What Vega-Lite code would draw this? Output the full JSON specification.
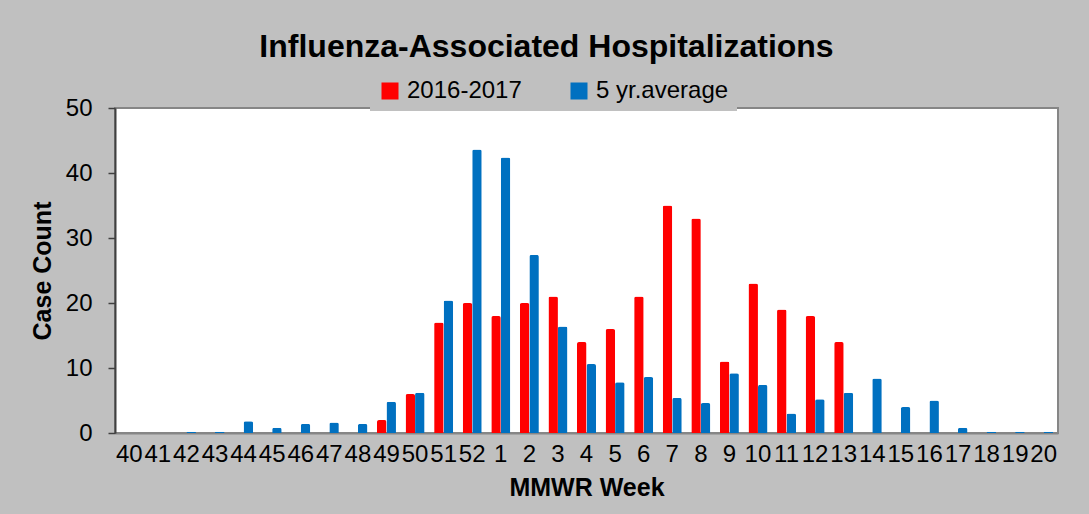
{
  "$schema": "https://vega.github.io/schema/vega-lite/v6.json",
  "autosize": {"type": "none"},
  "padding": {"left": 115, "top": 108, "right": 31, "bottom": 81},
  "width": 943,
  "height": 325,
  "background": "#c0c0c0",
  "title": {
    "text": "Influenza-Associated Hospitalizations",
    "font": "Liberation Sans",
    "fontSize": 32,
    "fontWeight": "bold",
    "color": "#000000",
    "anchor": "middle",
    "dx": -40,
    "offset": 7
  },
  "data": {
    "values": [
      {"week": "40", "series": "2016-2017", "value": 0}, {"week": "40", "series": "5 yr.average", "value": 0},
      {"week": "41", "series": "2016-2017", "value": 0}, {"week": "41", "series": "5 yr.average", "value": 0},
      {"week": "42", "series": "2016-2017", "value": 0}, {"week": "42", "series": "5 yr.average", "value": 0.2},
      {"week": "43", "series": "2016-2017", "value": 0}, {"week": "43", "series": "5 yr.average", "value": 0.2},
      {"week": "44", "series": "2016-2017", "value": 0}, {"week": "44", "series": "5 yr.average", "value": 1.8},
      {"week": "45", "series": "2016-2017", "value": 0}, {"week": "45", "series": "5 yr.average", "value": 0.8},
      {"week": "46", "series": "2016-2017", "value": 0}, {"week": "46", "series": "5 yr.average", "value": 1.4},
      {"week": "47", "series": "2016-2017", "value": 0}, {"week": "47", "series": "5 yr.average", "value": 1.6},
      {"week": "48", "series": "2016-2017", "value": 0}, {"week": "48", "series": "5 yr.average", "value": 1.4},
      {"week": "49", "series": "2016-2017", "value": 2}, {"week": "49", "series": "5 yr.average", "value": 4.8},
      {"week": "50", "series": "2016-2017", "value": 6}, {"week": "50", "series": "5 yr.average", "value": 6.2},
      {"week": "51", "series": "2016-2017", "value": 17}, {"week": "51", "series": "5 yr.average", "value": 20.4},
      {"week": "52", "series": "2016-2017", "value": 20}, {"week": "52", "series": "5 yr.average", "value": 43.6},
      {"week": "1", "series": "2016-2017", "value": 18}, {"week": "1", "series": "5 yr.average", "value": 42.4},
      {"week": "2", "series": "2016-2017", "value": 20}, {"week": "2", "series": "5 yr.average", "value": 27.4},
      {"week": "3", "series": "2016-2017", "value": 21}, {"week": "3", "series": "5 yr.average", "value": 16.4},
      {"week": "4", "series": "2016-2017", "value": 14}, {"week": "4", "series": "5 yr.average", "value": 10.6},
      {"week": "5", "series": "2016-2017", "value": 16}, {"week": "5", "series": "5 yr.average", "value": 7.8},
      {"week": "6", "series": "2016-2017", "value": 21}, {"week": "6", "series": "5 yr.average", "value": 8.6},
      {"week": "7", "series": "2016-2017", "value": 35}, {"week": "7", "series": "5 yr.average", "value": 5.4},
      {"week": "8", "series": "2016-2017", "value": 33}, {"week": "8", "series": "5 yr.average", "value": 4.6},
      {"week": "9", "series": "2016-2017", "value": 11}, {"week": "9", "series": "5 yr.average", "value": 9.2},
      {"week": "10", "series": "2016-2017", "value": 23}, {"week": "10", "series": "5 yr.average", "value": 7.4},
      {"week": "11", "series": "2016-2017", "value": 19}, {"week": "11", "series": "5 yr.average", "value": 3.0},
      {"week": "12", "series": "2016-2017", "value": 18}, {"week": "12", "series": "5 yr.average", "value": 5.2},
      {"week": "13", "series": "2016-2017", "value": 14}, {"week": "13", "series": "5 yr.average", "value": 6.2},
      {"week": "14", "series": "2016-2017", "value": 0}, {"week": "14", "series": "5 yr.average", "value": 8.4},
      {"week": "15", "series": "2016-2017", "value": 0}, {"week": "15", "series": "5 yr.average", "value": 4.0},
      {"week": "16", "series": "2016-2017", "value": 0}, {"week": "16", "series": "5 yr.average", "value": 5.0},
      {"week": "17", "series": "2016-2017", "value": 0}, {"week": "17", "series": "5 yr.average", "value": 0.8},
      {"week": "18", "series": "2016-2017", "value": 0}, {"week": "18", "series": "5 yr.average", "value": 0.2},
      {"week": "19", "series": "2016-2017", "value": 0}, {"week": "19", "series": "5 yr.average", "value": 0.2},
      {"week": "20", "series": "2016-2017", "value": 0}, {"week": "20", "series": "5 yr.average", "value": 0.2}
    ]
  },
  "mark": {"type": "bar", "cornerRadiusTopLeft": 2, "cornerRadiusTopRight": 2},
  "encoding": {
    "x": {
      "field": "week",
      "type": "nominal",
      "sort": null,
      "scale": {"paddingInner": 0.335, "paddingOuter": 0.1675},
      "axis": {
        "title": "MMWR Week",
        "labelAngle": 0,
        "ticks": false,
        "labelPadding": 9,
        "labelFontSize": 24,
        "labelFont": "Liberation Sans",
        "labelColor": "#000000",
        "labelBaseline": "top",
        "domainColor": "#868686",
        "domainWidth": 2,
        "titleFont": "Liberation Sans",
        "titleFontSize": 25,
        "titleFontWeight": "bold",
        "titleColor": "#000000",
        "titlePadding": 9
      }
    },
    "xOffset": {
      "field": "series",
      "type": "nominal",
      "sort": ["2016-2017", "5 yr.average"],
      "scale": {"paddingInner": 0, "paddingOuter": 0}
    },
    "y": {
      "field": "value",
      "type": "quantitative",
      "scale": {"domain": [0, 50], "nice": false},
      "axis": {
        "title": "Case Count",
        "values": [0, 10, 20, 30, 40, 50],
        "grid": false,
        "tickSize": 7,
        "tickColor": "#404040",
        "tickWidth": 1.5,
        "domainColor": "#404040",
        "domainWidth": 2,
        "labelPadding": 16,
        "labelFontSize": 24,
        "labelFont": "Liberation Sans",
        "labelColor": "#000000",
        "titleFont": "Liberation Sans",
        "titleFontSize": 25,
        "titleFontWeight": "bold",
        "titleColor": "#000000",
        "titlePadding": 10
      }
    },
    "color": {
      "field": "series",
      "type": "nominal",
      "sort": ["2016-2017", "5 yr.average"],
      "scale": {"domain": ["2016-2017", "5 yr.average"], "range": ["#ff0000", "#0070c0"]},
      "legend": {
        "title": null,
        "orient": "none",
        "legendX": 255,
        "legendY": -37,
        "direction": "horizontal",
        "fillColor": "#c0c0c0",
        "padding": 8,
        "symbolType": "square",
        "symbolSize": 289,
        "symbolStrokeWidth": 0,
        "labelFontSize": 24,
        "labelFont": "Liberation Sans",
        "labelColor": "#000000",
        "labelOffset": 5,
        "columnPadding": 45,
        "labelLimit": 300
      }
    }
  },
  "config": {
    "view": {"fill": "#ffffff", "stroke": "#868686", "strokeWidth": 2}
  }
}
